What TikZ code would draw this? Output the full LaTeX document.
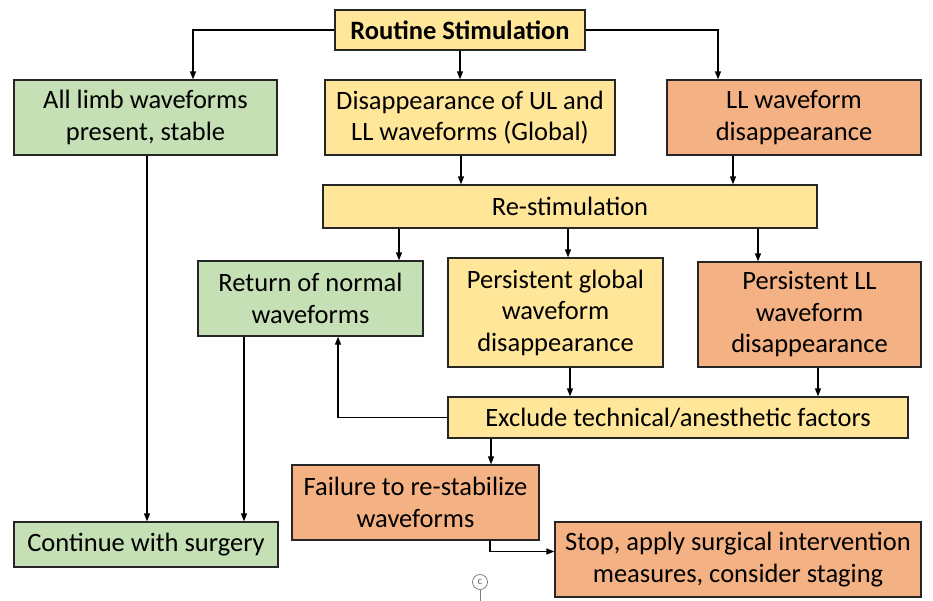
\documentclass[tikz,border=0pt]{standalone}
\usepackage{fontspec}
\setmainfont{Carlito}
\usetikzlibrary{arrows.meta}

\definecolor{boxyellow}{HTML}{FFE699}
\definecolor{boxgreen}{HTML}{C5E0B4}
\definecolor{boxorange}{HTML}{F4B183}

\tikzset{every picture/.style={line width=1.3pt}}
\tikzset{
	box/.style={draw=black!85, align=center, inner sep=0pt, font=\fontsize{26.5}{31.5}\selectfont},
	ybox/.style={box, fill=boxyellow},
	gbox/.style={box, fill=boxgreen},
	obox/.style={box, fill=boxorange},
	link/.style={-{Triangle[length=8pt,width=6pt]}, line width=1.3pt}
}

\begin{document}
\begin{tikzpicture}[x=1pt,y=1pt,yscale=-1,xscale=1]
	\useasboundingbox (0,0) rectangle (933,600);
	
	% Boxes
	\node [ybox, minimum width=250, minimum height=40, font=\fontsize{26.5}{30}\selectfont\bfseries] (routine) at (460,30) {Routine Stimulation};
	\node [gbox, minimum width=263, minimum height=75] (alllimb) at (145.5,117.5) {All limb waveforms\\present, stable};
	\node [ybox, minimum width=290, minimum height=75] (globalloss) at (470,117.5) {Disappearance of UL and\\LL waveforms (Global)};
	\node [obox, minimum width=254, minimum height=75] (llloss) at (794,117.5) {LL waveform\\disappearance};
	\node [ybox, minimum width=494, minimum height=43] (restim) at (570,206.5) {Re-stimulation};
	\node [gbox, minimum width=225, minimum height=75] (normal) at (310.5,298.5) {Return of normal\\waveforms};
	\node [ybox, minimum width=215, minimum height=109] (pglobal) at (555.5,312.5) {Persistent global\\waveform\\disappearance};
	\node [obox, minimum width=223, minimum height=105] (pll) at (809.5,314.5) {Persistent LL\\waveform\\disappearance};
	\node [ybox, minimum width=460, minimum height=41] (exclude) at (678,417.5) {Exclude technical/anesthetic factors};
	\node [obox, minimum width=247, minimum height=75] (failure) at (415.5,502.5) {Failure to re-stabilize\\waveforms};
	\node [gbox, minimum width=264, minimum height=45] (continue) at (146,544.5) {Continue with surgery};
	\node [obox, minimum width=366, minimum height=75] (stop) at (738,559.5) {Stop, apply surgical intervention\\measures, consider staging};
	
	% Mark
	\node [circle, draw=black!55, line width=0.7pt, text=black!60, inner sep=0pt, minimum size=15pt, font=\fontsize{11}{11}\selectfont] (mark) at (480,582) {c};
	\draw [black!50, line width=0.7pt] (mark.south) -- ++(0,12);
	
	% Connectors
	\draw [link] (routine.west) -| ([xshift=47.5]alllimb.north);
	\draw [link] (routine.south) -- (routine.south |- globalloss.north);
	\draw [link] (routine.east) -| ([xshift=-76]llloss.north);
	\draw [link] ([xshift=-9]globalloss.south) -- ([xshift=-9]globalloss.south |- restim.north);
	\draw [link] ([xshift=-61]llloss.south) -- ([xshift=-61]llloss.south |- restim.north);
	\draw [link] ([xshift=88.5]normal.north |- restim.south) -- ([xshift=88.5]normal.north);
	\draw [link] ([xshift=12.5]pglobal.north |- restim.south) -- ([xshift=12.5]pglobal.north);
	\draw [link] ([xshift=-51.5]pll.north |- restim.south) -- ([xshift=-51.5]pll.north);
	\draw [link] ([xshift=14.5]pglobal.south) -- ([xshift=14.5]pglobal.south |- exclude.north);
	\draw [link] ([xshift=8.5]pll.south) -- ([xshift=8.5]pll.south |- exclude.north);
	\draw [link] (exclude.west) -| ([xshift=27.5]normal.south);
	\draw [link] ([xshift=75.5]failure.north |- exclude.south) -- ([xshift=75.5]failure.north);
	\draw [link] ([xshift=74.5]failure.south) |- ([yshift=-8]stop.west);
	\draw [link] ([xshift=1.5]alllimb.south) -- ([xshift=1.5]alllimb.south |- continue.north);
	\draw [link] ([xshift=-66.5]normal.south) -- ([xshift=-66.5]normal.south |- continue.north);
	
\end{tikzpicture}
\end{document}
